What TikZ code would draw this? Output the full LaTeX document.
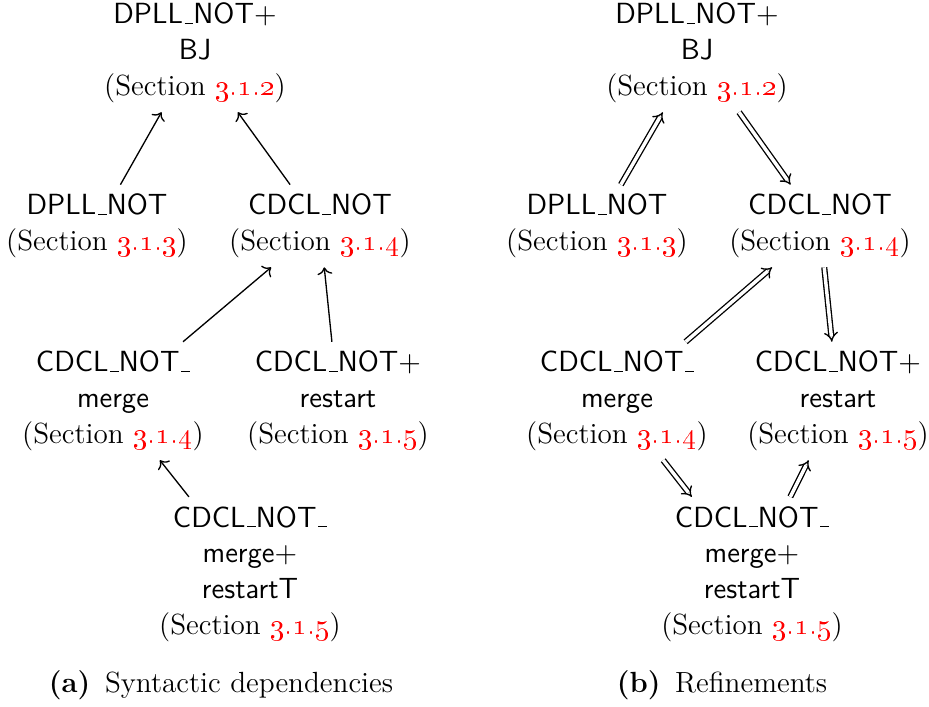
\documentclass[tikz,border=0pt]{standalone}
\usepackage{xcolor}
\usepackage{amsmath}
\usepackage{tikz}
\usetikzlibrary{arrows}
\usetikzlibrary{arrows.meta}
\tikzset{
calculus/.style = { align = center, font = \fontsize{11}{13.5}\selectfont },
depends/.style = { ->, draw = black, line width = 0.5pt },
refines/.style = { double, line width = 0.5pt, double distance = 1.3pt, -Implies },
subcap/.style = { font = \fontsize{11}{13.5}\selectfont },
}
\newcommand{\secnum}[1]{(Section \textcolor{red}{\oldstylenums{#1}})}
\newcommand{\usc}{\leavevmode\kern.06em\vbox{\hrule width .3em}}

\begin{document}
\begin{tikzpicture}[x = 0.3772pt, y = -0.3772pt]
    \useasboundingbox (0, 0) rectangle (929, 707);
    % (a) syntactic dependencies
    \node[calculus] (bjA) at (195, 53) {\textsf{DPLL\usc NOT$+$}\\\textsf{BJ}\\\secnum{3.1.2}};
    \node[calculus] (dpllA) at (97, 226) {\textsf{DPLL\usc NOT}\\\secnum{3.1.3}};
    \node[calculus] (cdclA) at (320, 226) {\textsf{CDCL\usc NOT}\\\secnum{3.1.4}};
    \node[calculus] (mergeA) at (113, 401) {\textsf{CDCL\usc NOT\usc}\\\textsf{merge}\\\secnum{3.1.4}};
    \node[calculus] (restartA) at (338, 401) {\textsf{CDCL\usc NOT$+$}\\\textsf{restart}\\\secnum{3.1.5}};
    \node[calculus] (bothA) at (250, 574) {\textsf{CDCL\usc NOT\usc}\\\textsf{merge$+$}\\\textsf{restartT}\\\secnum{3.1.5}};
    \draw[depends] (dpllA) -- (bjA);
    \draw[depends] (cdclA) -- (bjA);
    \draw[depends] (mergeA) -- (cdclA);
    \draw[depends] (restartA) -- (cdclA);
    \draw[depends] (bothA) -- (mergeA);
    \node[subcap] (capA) at (221, 685) {\textbf{(a)}\enspace Syntactic dependencies};
    % (b) refinements
    \node[calculus] (bjB) at (697, 53) {\textsf{DPLL\usc NOT$+$}\\\textsf{BJ}\\\secnum{3.1.2}};
    \node[calculus] (dpllB) at (597, 226) {\textsf{DPLL\usc NOT}\\\secnum{3.1.3}};
    \node[calculus] (cdclB) at (820, 226) {\textsf{CDCL\usc NOT}\\\secnum{3.1.4}};
    \node[calculus] (mergeB) at (617, 401) {\textsf{CDCL\usc NOT\usc}\\\textsf{merge}\\\secnum{3.1.4}};
    \node[calculus] (restartB) at (838, 401) {\textsf{CDCL\usc NOT$+$}\\\textsf{restart}\\\secnum{3.1.5}};
    \node[calculus] (bothB) at (752, 574) {\textsf{CDCL\usc NOT\usc}\\\textsf{merge$+$}\\\textsf{restartT}\\\secnum{3.1.5}};
    \draw[refines] (dpllB) -- (bjB);
    \draw[refines] (bjB) -- (cdclB);
    \draw[refines] (mergeB) -- (cdclB);
    \draw[refines] (cdclB) -- (restartB);
    \draw[refines] (mergeB) -- (bothB);
    \draw[refines] (bothB) -- (restartB);
    \node[subcap] (capB) at (722, 685) {\textbf{(b)}\enspace Refinements};
\end{tikzpicture}
\end{document}
